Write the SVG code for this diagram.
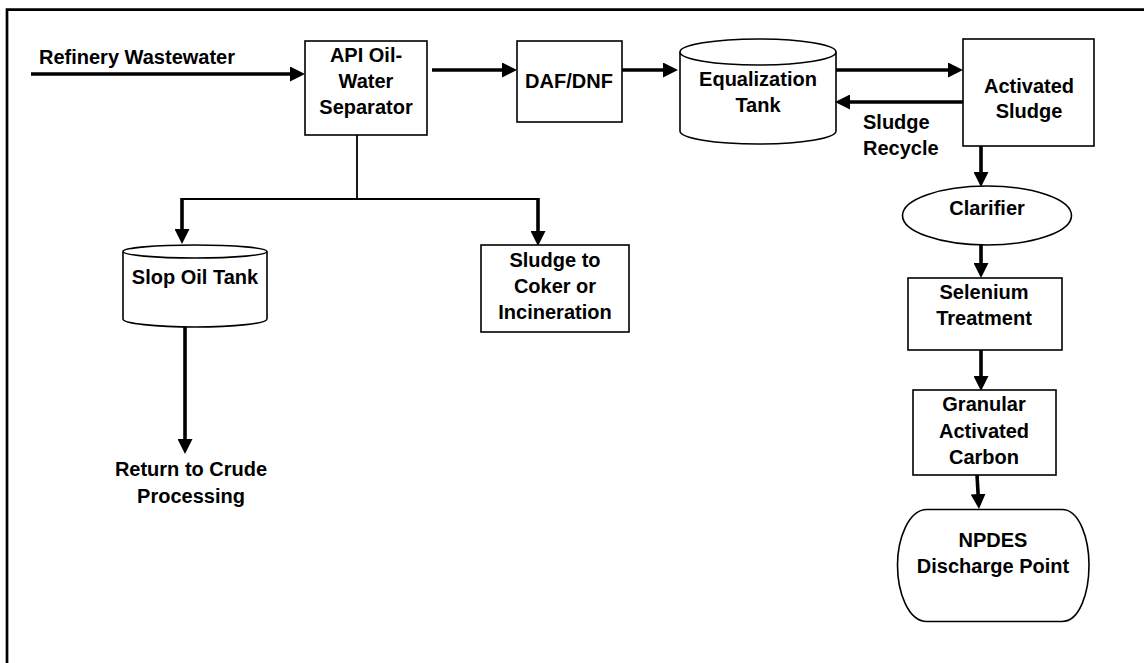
<svg xmlns="http://www.w3.org/2000/svg" width="1144" height="663" viewBox="0 0 1144 663">
<style>
  .shape{fill:#fff;stroke:#000;stroke-width:1.6}
  .t{font-family:"Liberation Sans",Arial,sans-serif;font-weight:bold;font-size:20px;fill:#000;text-anchor:middle}
  .tl{text-anchor:start}
  .thick{stroke:#000;stroke-width:3.6;fill:none}
  .thin{stroke:#000;stroke-width:1.8;fill:none}
</style>
<defs>
  <marker id="ah" markerUnits="userSpaceOnUse" viewBox="0 0 15 15" refX="5" refY="7.5" markerWidth="15" markerHeight="15" orient="auto">
    <path d="M0,0 L15,7.5 L0,15 Z" fill="#000"/>
  </marker>
</defs>
<rect width="1144" height="663" fill="#fff"/>
<path d="M7,680 L7,9.7 L1160,9.7" fill="none" stroke="#000" stroke-width="2.7"/>

<g id="connectors">
  <line class="thick" x1="31" y1="74" x2="295" y2="74" marker-end="url(#ah)"/>
  <line class="thick" x1="432" y1="70" x2="507" y2="70" marker-end="url(#ah)"/>
  <line class="thick" x1="622" y1="70" x2="668" y2="70" marker-end="url(#ah)"/>
  <line class="thick" x1="836" y1="70" x2="953" y2="70" marker-end="url(#ah)"/>
  <line class="thick" x1="963" y1="102" x2="845" y2="102" marker-end="url(#ah)"/>
  <path class="thin" d="M357,135 L357,199 M181,199 L539,199"/>
  <line class="thick" x1="182" y1="198" x2="182" y2="234" marker-end="url(#ah)"/>
  <line class="thick" x1="538" y1="198" x2="538" y2="236" marker-end="url(#ah)"/>
  <line class="thick" x1="185" y1="327" x2="185" y2="444" marker-end="url(#ah)"/>
  <line class="thick" x1="981" y1="146" x2="981" y2="177" marker-end="url(#ah)"/>
  <line class="thick" x1="981" y1="245" x2="981" y2="268" marker-end="url(#ah)"/>
  <line class="thick" x1="981" y1="350" x2="981" y2="381" marker-end="url(#ah)"/>
  <line class="thick" x1="977" y1="475" x2="978.4" y2="499" marker-end="url(#ah)"/>
</g>

<g id="refinery-wastewater">
  <text class="t tl" x="39" y="64">Refinery Wastewater</text>
</g>

<g id="api-separator">
  <rect class="shape" x="305" y="41" width="122" height="94"/>
  <text class="t" x="366" y="62">API Oil-</text>
  <text class="t" x="366" y="88">Water</text>
  <text class="t" x="366" y="114">Separator</text>
</g>

<g id="daf-dnf">
  <rect class="shape" x="517" y="41" width="105" height="81"/>
  <text class="t" x="569" y="88">DAF/DNF</text>
</g>

<g id="equalization-tank">
  <path class="shape" d="M680,52 L680,131 A78,13 0 0 0 836,131 L836,52"/>
  <ellipse class="shape" cx="758" cy="52" rx="78" ry="13"/>
  <text class="t" x="758" y="86">Equalization</text>
  <text class="t" x="758" y="112">Tank</text>
</g>

<g id="sludge-recycle-label">
  <text class="t tl" x="863" y="129">Sludge</text>
  <text class="t tl" x="863" y="155">Recycle</text>
</g>

<g id="activated-sludge">
  <rect class="shape" x="963" y="39" width="131" height="107"/>
  <text class="t" x="1029" y="93">Activated</text>
  <text class="t" x="1029" y="118">Sludge</text>
</g>

<g id="clarifier">
  <ellipse class="shape" cx="987" cy="215.5" rx="84.5" ry="29.5"/>
  <text class="t" x="987" y="215">Clarifier</text>
</g>

<g id="selenium-treatment">
  <rect class="shape" x="908" y="278" width="154" height="72"/>
  <text class="t" x="984" y="299">Selenium</text>
  <text class="t" x="984" y="325">Treatment</text>
</g>

<g id="gac">
  <rect class="shape" x="913" y="390" width="143" height="85"/>
  <text class="t" x="984" y="411">Granular</text>
  <text class="t" x="984" y="438">Activated</text>
  <text class="t" x="984" y="464">Carbon</text>
</g>

<g id="npdes">
  <path class="shape" d="M927,509.5 L1062,509.5 C1080,509.5 1089,540 1089,565 C1089,592 1080,621.5 1062,621.5 L927,621.5 C908,621.5 897.5,592 897.5,565 C897.5,540 908,509.5 927,509.5 Z"/>
  <text class="t" x="993" y="547">NPDES</text>
  <text class="t" x="993" y="573">Discharge Point</text>
</g>

<g id="slop-oil-tank">
  <path class="shape" d="M123,251.5 L123,319 A72,8 0 0 0 267,319 L267,251.5"/>
  <ellipse class="shape" cx="195" cy="251.5" rx="72" ry="6.5"/>
  <text class="t" x="195" y="284">Slop Oil Tank</text>
</g>

<g id="sludge-coker">
  <rect class="shape" x="481" y="245" width="148" height="87"/>
  <text class="t" x="555" y="267">Sludge to</text>
  <text class="t" x="555" y="293">Coker or</text>
  <text class="t" x="555" y="319">Incineration</text>
</g>

<g id="return-crude">
  <text class="t" x="191" y="476">Return to Crude</text>
  <text class="t" x="191" y="503">Processing</text>
</g>
</svg>
